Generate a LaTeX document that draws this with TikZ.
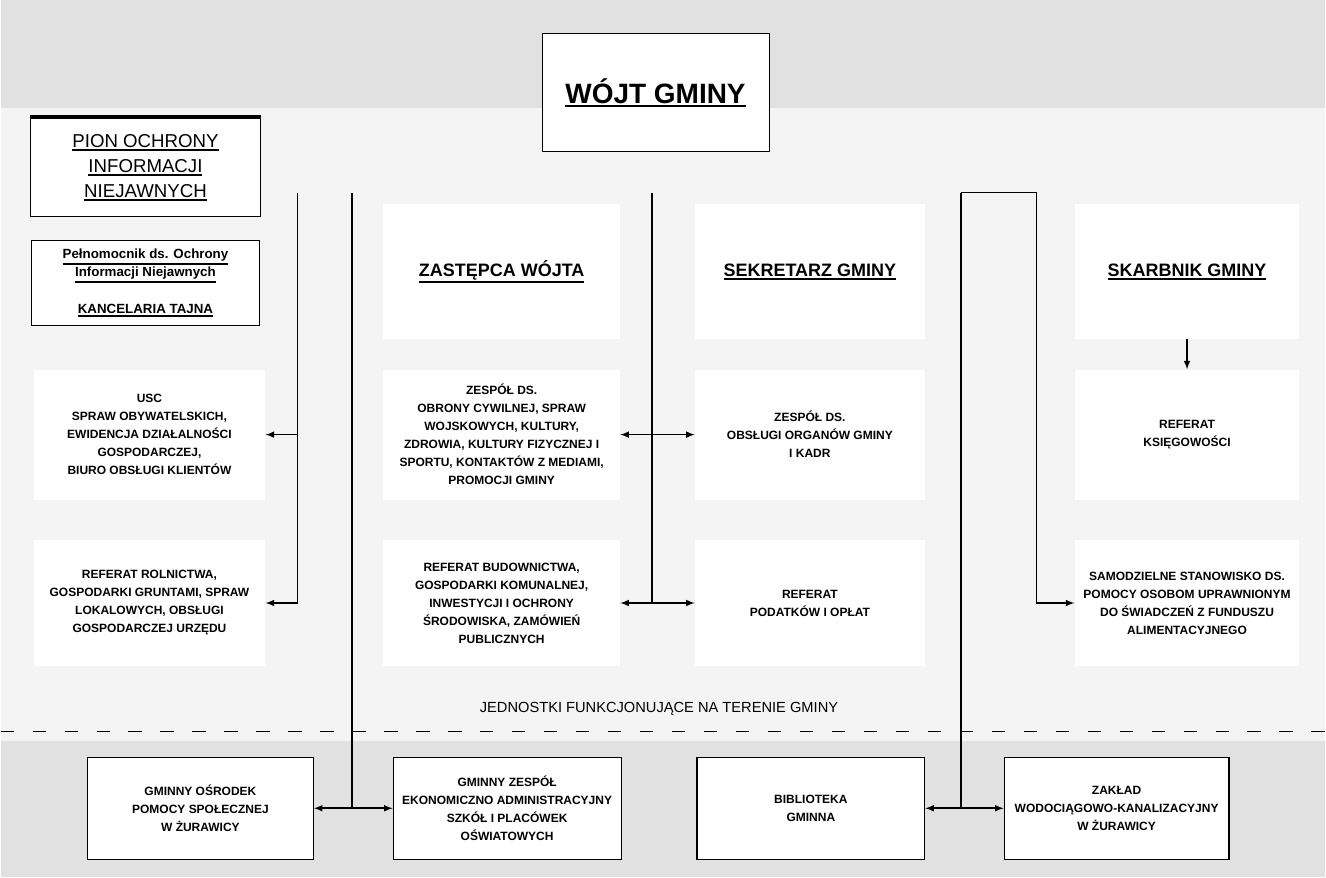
\documentclass[tikz,border=0pt]{standalone}
\usepackage{fontspec}
\setmainfont{Liberation Sans}
\usetikzlibrary{arrows, positioning}
\definecolor{scangray}{RGB}{244,244,244}
\definecolor{scandark}{RGB}{225,225,225}
\newcommand{\hdul}[1]{\leavevmode\vtop{\hbox{#1}\kern1.2pt\hrule height 1.3pt}}

\begin{document}
\begin{tikzpicture}[x=0.75pt, y=-0.75pt,
    unit/.style={rectangle, fill=white, font=\bfseries\fontsize{9}{13.5}\selectfont, align=center, inner sep=1pt},
    head/.style={rectangle, fill=white, font=\bfseries\fontsize{13.5}{16}\selectfont, align=center, inner sep=1pt},
    boxed/.style={unit, draw, line width=0.8pt},
    trunk/.style={line width=1.2pt},
    link/.style={line width=1.2pt, -latex},
    both/.style={line width=1.2pt, latex-latex}]
    % Background
    \fill[scangray] (0,0) rectangle (1326,878);
    \fill[scandark] (0,0) rectangle (1326,108);
    \fill[scandark] (0,742) rectangle (1326,878);

    % Wojt
    \node[head, draw, line width=0.6pt, font=\bfseries\fontsize{21}{24}\selectfont, minimum width=170.25pt, minimum height=89.25pt] (wojt) at (655.5,92.5) {\hdul{WÓJT GMINY}};

    % Pion ochrony
    \node[rectangle, draw, fill=white, line width=0.6pt, font=\fontsize{14}{18.75}\selectfont, align=center, minimum width=172.5pt, minimum height=74.25pt] (pion) at (145,167.5) {\hdul{PION OCHRONY}\\\hdul{INFORMACJI}\\\hdul{NIEJAWNYCH}};
    \draw[line width=3pt] (pion.north west) -- (pion.north east);
    \node[boxed, line width=0.6pt, font=\bfseries\fontsize{10}{13.5}\selectfont, minimum width=171pt, minimum height=63.75pt, below=17pt of pion] (pelno) {\hdul{Pełnomocnik ds. Ochrony}\\\hdul{Informacji Niejawnych}\\[14pt]\hdul{KANCELARIA TAJNA}};

    % Row 2
    \node[unit, minimum width=174pt, minimum height=97.5pt] (usc) at (149,435) {USC\\SPRAW OBYWATELSKICH,\\EWIDENCJA DZIAŁALNOŚCI\\GOSPODARCZEJ,\\BIURO OBSŁUGI KLIENTÓW};
    \node[unit, minimum width=177.75pt, minimum height=97.5pt] (zob) at (501.5,435) {ZESPÓŁ DS.\\OBRONY CYWILNEJ, SPRAW\\WOJSKOWYCH, KULTURY,\\ZDROWIA, KULTURY FIZYCZNEJ I\\SPORTU, KONTAKTÓW Z MEDIAMI,\\PROMOCJI GMINY};
    \node[unit, minimum width=172.5pt, minimum height=97.5pt] (zoo) at (810,435) {ZESPÓŁ DS.\\OBSŁUGI ORGANÓW GMINY\\I KADR};
    \node[unit, minimum width=168.75pt, minimum height=97.5pt] (ksi) at (1187.5,435) {REFERAT\\KSIĘGOWOŚCI};

    % Headings
    \node[head, minimum width=177.75pt, minimum height=101.25pt, above=22.5pt of zob] (zas) {\hdul{ZASTĘPCA WÓJTA}};
    \node[head, minimum width=172.5pt, minimum height=101.25pt, above=22.5pt of zoo] (sek) {\hdul{SEKRETARZ GMINY}};
    \node[head, minimum width=168.75pt, minimum height=101.25pt, above=22.5pt of ksi] (skb) {\hdul{SKARBNIK GMINY}};

    % Row 3
    \node[unit, minimum width=174pt, minimum height=94.5pt, below=30pt of usc] (rol) {REFERAT ROLNICTWA,\\GOSPODARKI GRUNTAMI, SPRAW\\LOKALOWYCH, OBSŁUGI\\GOSPODARCZEJ URZĘDU};
    \node[unit, minimum width=177.75pt, minimum height=94.5pt, below=30pt of zob] (bud) {REFERAT BUDOWNICTWA,\\GOSPODARKI KOMUNALNEJ,\\INWESTYCJI I OCHRONY\\ŚRODOWISKA, ZAMÓWIEŃ\\PUBLICZNYCH};
    \node[unit, minimum width=172.5pt, minimum height=94.5pt, below=30pt of zoo] (pod) {REFERAT\\PODATKÓW I OPŁAT};
    \node[unit, minimum width=168.75pt, minimum height=94.5pt, below=30pt of ksi] (sam) {SAMODZIELNE STANOWISKO DS.\\POMOCY OSOBOM UPRAWNIONYM\\DO ŚWIADCZEŃ Z FUNDUSZU\\ALIMENTACYJNEGO};

    % Separator
    \node[font=\fontsize{11}{13}\selectfont] (jedn) at (659,710) {JEDNOSTKI FUNKCJONUJĄCE NA TERENIE GMINY};
    \draw[line width=0.9pt, dash pattern=on 10pt off 14pt] (0,732) -- (1326,732);

    % Units in the gmina
    \node[boxed, minimum width=169.5pt, minimum height=76.5pt] (gops) at (200,809) {GMINNY OŚRODEK\\POMOCY SPOŁECZNEJ\\W ŻURAWICY};
    \node[boxed, minimum width=171pt, minimum height=76.5pt] (gze) at (507,809) {GMINNY ZESPÓŁ\\EKONOMICZNO ADMINISTRACYJNY\\SZKÓŁ I PLACÓWEK\\OŚWIATOWYCH};
    \node[boxed, minimum width=171pt, minimum height=76.5pt] (bib) at (811,809) {BIBLIOTEKA\\GMINNA};
    \node[boxed, minimum width=168.75pt, minimum height=76.5pt] (zak) at (1117,809) {ZAKŁAD\\WODOCIĄGOWO-KANALIZACYJNY\\W ŻURAWICY};

    % Trunks
    \coordinate (ta) at (297,193);
    \coordinate (tb) at (352,193);
    \coordinate (tc) at (652,193);
    \coordinate (td) at (961,193);
    \coordinate (te) at (1037,193);

    % Arrows
    \draw[link] (ta) |- (rol.east);
    \draw[link] (ta |- usc.east) -- (usc.east);
    \draw[trunk] (tb) -- (tb |- gops.east);
    \draw[both] (gops.east) -- (gze.west);
    \draw[trunk] (tc) -- (tc |- bud.east);
    \draw[both] (zob.east) -- (zoo.west);
    \draw[both] (bud.east) -- (pod.west);
    \draw[line width=0.8pt] (td) -- (te);
    \draw[trunk] (td) -- (td |- bib.east);
    \draw[both] (bib.east) -- (zak.west);
    \draw[link] (te) |- (sam.west);
    \draw[link] (skb.south) -- (ksi.north);
\end{tikzpicture}
\end{document}
